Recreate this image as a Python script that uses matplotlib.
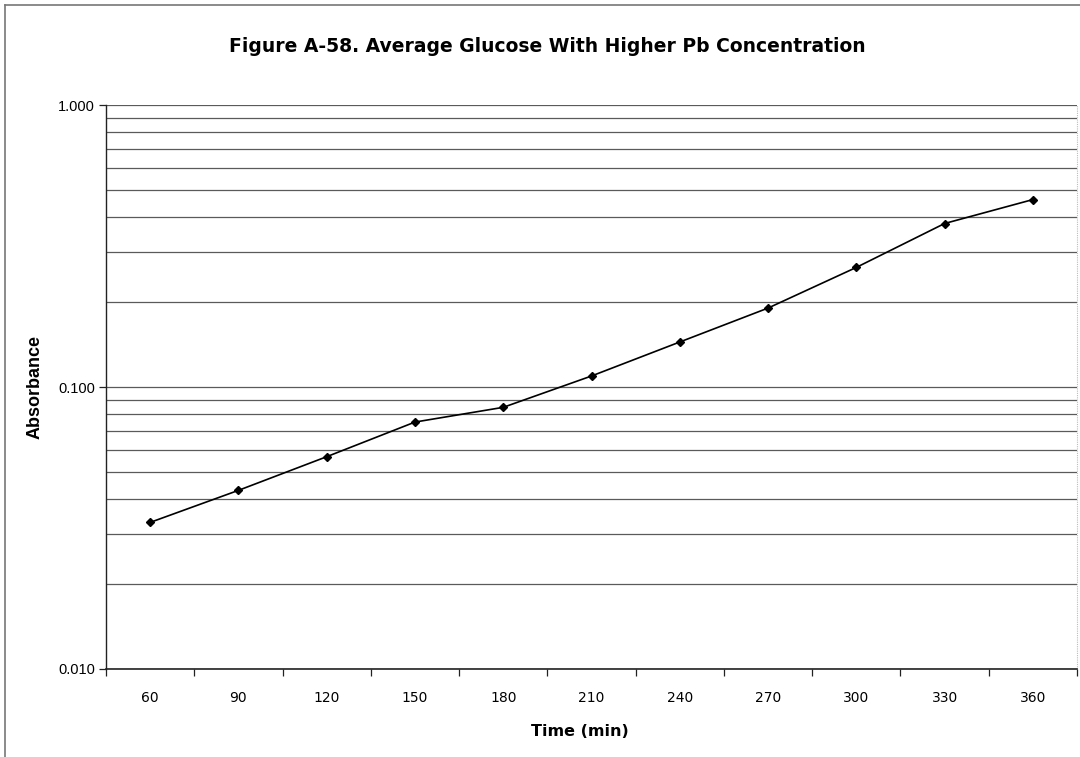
import matplotlib
matplotlib.use("Agg")
import matplotlib.pyplot as plt
from matplotlib.lines import Line2D
from matplotlib.ticker import FixedLocator, NullFormatter, NullLocator

# Sampling times (min) and mean absorbance readings
times = [60, 90, 120, 150, 180, 210, 240, 270, 300, 330, 360]
absorbance = [0.0331, 0.0430, 0.0566, 0.0751, 0.0847, 0.1094,
              0.1444, 0.1905, 0.2655, 0.380, 0.462]
y_ticks = [0.01, 0.1, 1.0]
y_tick_labels = ["0.010", "0.100", "1.000"]

title = "Figure A-58. Average Glucose With Higher Pb Concentration"
x_label = "Time (min)"
y_label = "Absorbance"

W, H = 1080, 757
fig = plt.figure(figsize=(W / 100, H / 100), dpi=100)

# plot area in pixel units
left, right, top, bottom = 106, 1077, 105, 669
ax = fig.add_axes([left / W, 1 - bottom / H, (right - left) / W, (bottom - top) / H])

pos = list(range(len(times)))
ax.set_yscale("log")
ax.set_ylim(0.01, 1.0)
ax.set_xlim(-0.5, len(times) - 0.5)

# horizontal gridlines at every 1..9 multiple of each decade
grid_vals = [m * 10.0 ** e for e in (-2, -1) for m in range(1, 10)] + [1.0]
for g in grid_vals:
    ax.axhline(g, color="#5a5a5a", lw=0.9, zorder=1)

ax.plot(pos, absorbance, color="black", lw=1.2, marker="D", ms=3.8,
        mfc="black", mec="black", zorder=3)

# axes styling
for side in ("top", "right"):
    ax.spines[side].set_visible(False)
ax.spines["left"].set_color("#222222")
ax.spines["bottom"].set_color("#222222")
ax.spines["left"].set_linewidth(1.0)
ax.spines["bottom"].set_linewidth(1.2)
# faint right edge of the plot area
ax.plot([1, 1], [0, 1], transform=ax.transAxes, color="#bbbbbb", lw=0.8,
        ls=(0, (1, 1)), clip_on=False)

ax.yaxis.set_major_locator(FixedLocator(y_ticks))
ax.yaxis.set_minor_locator(NullLocator())
ax.set_yticklabels(y_tick_labels, fontsize=10.5, family="Liberation Sans")
ax.tick_params(axis="y", which="major", length=5, width=0.9, pad=3, color="#222222")

# category axis: ticks on bin boundaries, labels centred in bins
ax.xaxis.set_major_locator(FixedLocator([p - 0.5 for p in pos] + [len(pos) - 0.5]))
ax.xaxis.set_major_formatter(NullFormatter())
ax.tick_params(axis="x", which="major", length=5, width=0.9, color="#222222")
for p, t in zip(pos, times):
    ax.text(p, -0.052, str(t), transform=ax.get_xaxis_transform(), ha="center",
            va="center", fontsize=10, family="DejaVu Sans")

fig.text(580 / W, 1 - 731 / H, x_label, ha="center", va="center",
         fontsize=11.5, fontweight="bold", family="DejaVu Sans")
fig.text(35 / W, 1 - 387 / H, y_label, ha="center", va="center", rotation=90,
         fontsize=13, fontweight="bold", family="Liberation Sans")
fig.text(547 / W, 1 - 47 / H, title, ha="center", va="center",
         fontsize=13.5, fontweight="bold", family="DejaVu Sans")

# outer chart frame (left and top edges)
fig.add_artist(Line2D([5 / W, 5 / W], [0, 1 - 5 / H], transform=fig.transFigure,
                      color="#777777", lw=1.2))
fig.add_artist(Line2D([5 / W, 1], [1 - 5 / H, 1 - 5 / H], transform=fig.transFigure,
                      color="#777777", lw=1.2))

fig.savefig("out.png", dpi=100, facecolor="white")
